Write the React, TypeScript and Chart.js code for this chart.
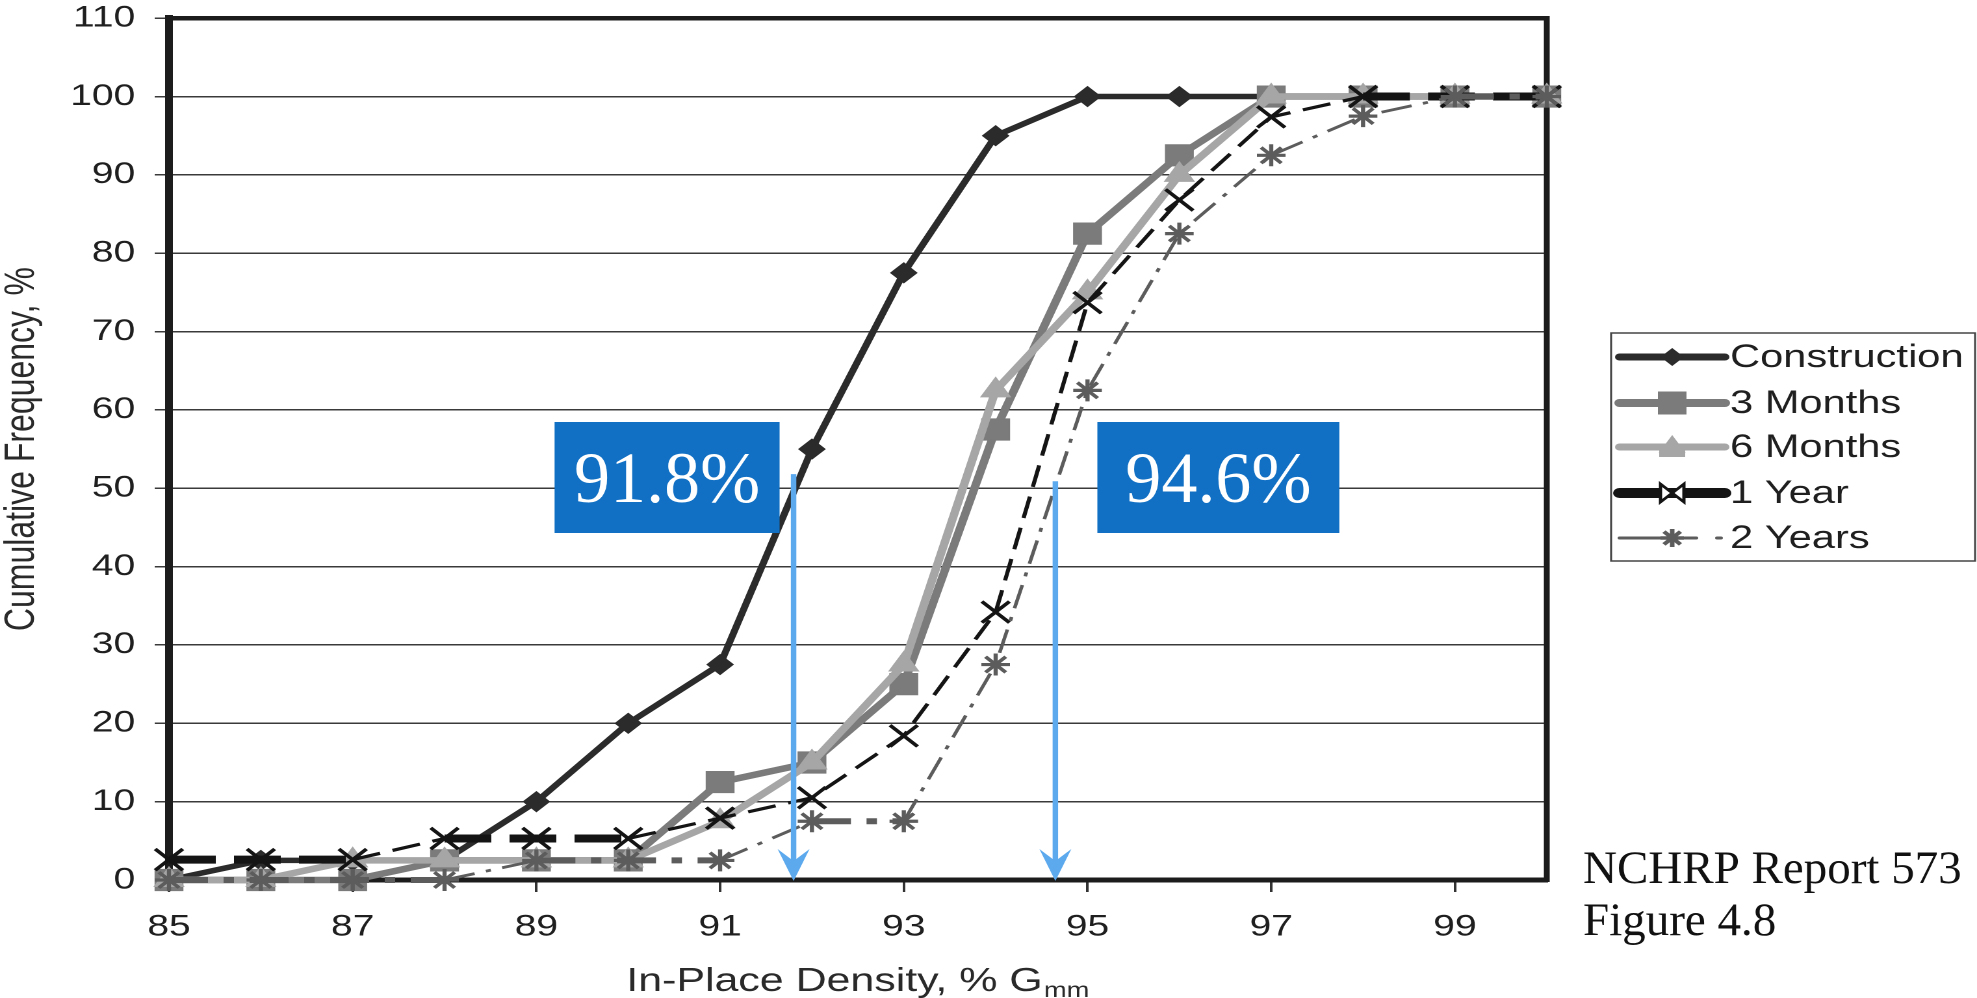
import React, { useEffect, useRef } from 'react';
import { Chart, registerables } from 'chart.js';

Chart.register(...registerables);

// ---------------- data ----------------
const densities = [85, 86, 87, 88, 89, 90, 91, 92, 93, 94, 95, 96, 97, 98, 99, 100];
const construction = [0, 2.5, 2.5, 2.5, 10, 20, 27.5, 55, 77.5, 95, 100, 100, 100, 100, 100, 100];
const threeMonths = [0, 0, 0, 2.5, 2.5, 2.5, 12.5, 15, 25, 57.5, 82.5, 92.5, 100, 100, 100, 100];
const sixMonths = [0, 0, 2.5, 2.5, 2.5, 2.5, 7.5, 15, 27.5, 62.5, 75, 90, 100, 100, 100, 100];
const oneYear = [2.6, 2.6, 2.6, 5.3, 5.3, 5.3, 7.9, 10.5, 18.4, 34.2, 73.7, 86.8, 97.4, 100, 100, 100];
const twoYears = [0, 0, 0, 0, 2.5, 2.5, 2.5, 7.5, 7.5, 27.5, 62.5, 82.5, 92.5, 97.5, 100, 100];

const seriesNames = ['Construction', '3 Months', '6 Months', '1 Year', '2 Years'];
const xTickValues = [85, 87, 89, 91, 93, 95, 97, 99];
const yMin = 0;
const yMax = 110;
const yStep = 10;
const xMin = 85;
const xMax = 100;

const annotationValues = [91.8, 94.65];
const annotationLabels = ['91.8%', '94.6%'];
const sourceLines = ['NCHRP Report 573', 'Figure 4.8'];
const yAxisTitle = 'Cumulative Frequency, %';
const xAxisTitleMain = 'In-Place Density, % G';
const xAxisTitleSub = 'mm';

// ---------------- layout / style ----------------
const PAGE_W = 1977;
const PAGE_H = 998;
const LOGICAL_W = 1521;
const S = PAGE_W / LOGICAL_W; // horizontal stretch of the original figure

const SANS = '"Liberation Sans", Arial, Helvetica, sans-serif';
const SERIF = '"Liberation Serif", "Times New Roman", serif';

const COL = {
  construction: '#2b2b2b',
  three: '#7b7b7b',
  six: '#a6a6a6',
  one: '#141414',
  two: '#5c5c5c',
  axis: '#1c1c1c',
  grid: '#3a3a3a',
  text: '#1f1f1f',
  box: '#1170C4',
  arrow: '#5CA9EE',
};

const ARROW_TOP_VALUES = [51.8, 50.9];
const ANNOT_BOX = [
  { dx: -239, w: 225 },
  { dx: 42, w: 242 },
];
const BOX_TOP = 422;
const BOX_H = 111;

const flat = (c: any) => c.p0.parsed.y === c.p1.parsed.y;
const pts = (arr: number[]) => densities.map((x, i) => ({ x, y: arr[i] }));

function markerPath(ctx: CanvasRenderingContext2D, style: string, x: number, y: number, r: number) {
  ctx.beginPath();
  if (style === 'diamond') {
    ctx.moveTo(x, y - r); ctx.lineTo(x + r, y); ctx.lineTo(x, y + r); ctx.lineTo(x - r, y); ctx.closePath();
  } else if (style === 'triangle') {
    for (let k = 0; k < 3; k++) {
      const ang = -Math.PI / 2 + (k * 2 * Math.PI) / 3;
      const px = x + Math.cos(ang) * r;
      const py = y + Math.sin(ang) * r;
      if (k === 0) ctx.moveTo(px, py); else ctx.lineTo(px, py);
    }
    ctx.closePath();
  }
}

function drawLegend(ctx: CanvasRenderingContext2D) {
  const left = 1239.5;
  const top = 333;
  const w = 280;
  const h = 228;
  ctx.save();
  ctx.fillStyle = '#ffffff';
  ctx.fillRect(left, top, w, h);
  ctx.strokeStyle = '#444';
  ctx.lineWidth = 1.5;
  ctx.strokeRect(left, top, w, h);

  const x0 = 1246;
  const x1 = 1327;
  const mx = 1286.5;
  const tx = 1331;
  const rows = [357, 403, 447, 493, 538];
  ctx.lineCap = 'round';

  // Construction
  let y = rows[0];
  ctx.strokeStyle = COL.construction; ctx.lineWidth = 7;
  ctx.beginPath(); ctx.moveTo(x0, y); ctx.lineTo(x1, y); ctx.stroke();
  ctx.fillStyle = COL.construction; markerPath(ctx, 'diamond', mx, y, 9); ctx.fill();

  // 3 Months
  y = rows[1];
  ctx.strokeStyle = COL.three; ctx.lineWidth = 8;
  ctx.beginPath(); ctx.moveTo(x0, y); ctx.lineTo(x1, y); ctx.stroke();
  ctx.fillStyle = COL.three; ctx.fillRect(mx - 11, y - 11.5, 22, 23);

  // 6 Months
  y = rows[2];
  ctx.strokeStyle = COL.six; ctx.lineWidth = 7;
  ctx.beginPath(); ctx.moveTo(x0, y); ctx.lineTo(x1, y); ctx.stroke();
  ctx.fillStyle = COL.six; markerPath(ctx, 'triangle', mx, y, 12); ctx.fill();
  ctx.fillRect(mx - 10, y - 2, 20, 12);

  // 1 Year
  y = rows[3];
  ctx.strokeStyle = COL.one; ctx.lineWidth = 10;
  ctx.beginPath(); ctx.moveTo(x0, y); ctx.lineTo(x1, y); ctx.stroke();
  ctx.lineCap = 'butt';
  ctx.fillStyle = '#fff';
  ctx.beginPath();
  ctx.moveTo(mx - 9, y - 9); ctx.lineTo(mx + 9, y + 9); ctx.lineTo(mx + 9, y - 9); ctx.lineTo(mx - 9, y + 9); ctx.closePath();
  ctx.fill();
  ctx.strokeStyle = COL.one; ctx.lineWidth = 2.5;
  ctx.stroke();
  ctx.lineCap = 'round';

  // 2 Years
  y = rows[4];
  ctx.strokeStyle = COL.two; ctx.lineWidth = 3;
  const segs = [[1246, 1278.5], [1296, 1305], [1321, 1324]];
  segs.forEach(([a, b]) => { ctx.beginPath(); ctx.moveTo(a, y); ctx.lineTo(b, y); ctx.stroke(); });
  ctx.lineWidth = 3.5; ctx.lineCap = 'butt';
  const r = 9;
  const d = r * Math.SQRT1_2;
  ctx.beginPath();
  ctx.moveTo(mx, y - r); ctx.lineTo(mx, y + r);
  ctx.moveTo(mx - d, y - d); ctx.lineTo(mx + d, y + d);
  ctx.moveTo(mx - d, y + d); ctx.lineTo(mx + d, y - d);
  ctx.moveTo(mx - r, y); ctx.lineTo(mx + r, y);
  ctx.stroke();

  // texts
  ctx.fillStyle = '#1f1f1f';
  ctx.font = `32px ${SANS}`;
  ctx.textAlign = 'left';
  ctx.textBaseline = 'middle';
  seriesNames.forEach((name, i) => ctx.fillText(name, tx, rows[i] + 1));
  ctx.restore();
}

const overlayPlugin = {
  id: 'overlay',
  beforeDatasetsDraw(chart: any) {
    const { ctx, chartArea: a } = chart;
    ctx.save();
    ctx.strokeStyle = COL.axis;
    ctx.lineWidth = 4.5;
    ctx.lineJoin = 'miter';
    ctx.beginPath();
    ctx.moveTo(a.left - 3, a.top);
    ctx.lineTo(a.right, a.top);
    ctx.lineTo(a.right, a.bottom + 2);
    ctx.stroke();
    ctx.restore();
  },
  afterDraw(chart: any) {
    const { ctx, chartArea: a, scales } = chart;
    const xs = scales.x;
    const ys = scales.y;

    // x-axis title with subscript
    ctx.save();
    ctx.fillStyle = '#2a2a2a';
    ctx.textBaseline = 'alphabetic';
    ctx.textAlign = 'left';
    ctx.font = `33px ${SANS}`;
    const w1 = ctx.measureText(xAxisTitleMain).width;
    ctx.font = `21px ${SANS}`;
    const w2 = ctx.measureText(xAxisTitleSub).width;
    const cx = (a.left + a.right) / 2;
    const start = cx - (w1 + w2 + 1) / 2;
    ctx.font = `33px ${SANS}`;
    ctx.fillText(xAxisTitleMain, start, 991);
    ctx.font = `21px ${SANS}`;
    ctx.fillText(xAxisTitleSub, start + w1 + 1, 997);
    ctx.restore();

    drawLegend(ctx);

    // un-stretched overlays (annotations & source)
    ctx.save();
    ctx.scale(1 / S, 1);
    annotationValues.forEach((v, i) => {
      const px = xs.getPixelForValue(v) * S;
      const yTop = ys.getPixelForValue(ARROW_TOP_VALUES[i]);
      const yTip = ys.getPixelForValue(0) + 1;
      ctx.strokeStyle = COL.arrow;
      ctx.lineWidth = 5.5;
      ctx.beginPath();
      ctx.moveTo(px, yTop);
      ctx.lineTo(px, yTip - 20);
      ctx.stroke();
      ctx.fillStyle = COL.arrow;
      ctx.beginPath();
      ctx.moveTo(px, yTip);
      ctx.lineTo(px - 16, yTip - 32);
      ctx.lineTo(px, yTip - 20);
      ctx.lineTo(px + 16, yTip - 32);
      ctx.closePath();
      ctx.fill();

      const b = ANNOT_BOX[i];
      const bl = px + b.dx;
      ctx.fillStyle = COL.box;
      ctx.fillRect(bl, BOX_TOP, b.w, BOX_H);
      ctx.fillStyle = '#ffffff';
      ctx.font = `72px ${SERIF}`;
      ctx.textAlign = 'center';
      ctx.textBaseline = 'alphabetic';
      ctx.fillText(annotationLabels[i], bl + b.w / 2, BOX_TOP + 80);
    });

    ctx.fillStyle = '#111';
    ctx.font = `47px ${SERIF}`;
    ctx.textAlign = 'left';
    ctx.textBaseline = 'alphabetic';
    ctx.fillText(sourceLines[0], 1583, 883);
    ctx.fillText(sourceLines[1], 1583, 935);
    ctx.restore();
  },
};

function buildConfig(): any {
  return {
    type: 'line',
    data: {
      datasets: [
        {
          label: seriesNames[0],
          data: pts(construction),
          borderColor: COL.construction,
          backgroundColor: COL.construction,
          pointBackgroundColor: COL.construction,
          pointBorderColor: COL.construction,
          borderWidth: 5.5,
          pointStyle: 'rectRot',
          pointRadius: 10,
          pointBorderWidth: 1,
          order: 5,
        },
        {
          label: seriesNames[1],
          data: pts(threeMonths),
          borderColor: COL.three,
          backgroundColor: COL.three,
          pointBackgroundColor: COL.three,
          pointBorderColor: COL.three,
          borderWidth: 6.5,
          pointStyle: 'rect',
          pointRadius: 15,
          pointBorderWidth: 1,
          order: 4,
        },
        {
          label: seriesNames[2],
          data: pts(sixMonths),
          borderColor: COL.six,
          backgroundColor: COL.six,
          pointBackgroundColor: COL.six,
          pointBorderColor: COL.six,
          borderWidth: 6.5,
          pointStyle: 'triangle',
          pointRadius: 13,
          pointBorderWidth: 1,
          order: 3,
        },
        {
          label: seriesNames[3],
          data: pts(oneYear),
          borderColor: COL.one,
          backgroundColor: COL.one,
          pointBackgroundColor: COL.one,
          pointBorderColor: COL.one,
          borderWidth: 3,
          borderDash: [22, 10],
          pointStyle: 'crossRot',
          pointRadius: 15,
          pointBorderWidth: 3.2,
          segment: {
            borderWidth: (c: any) => (flat(c) ? 8 : 3.2),
            borderDash: (c: any) => (flat(c) ? [36, 14] : [22, 10]),
          },
          order: 2,
        },
        {
          label: seriesNames[4],
          data: pts(twoYears),
          borderColor: COL.two,
          backgroundColor: COL.two,
          pointBackgroundColor: COL.two,
          pointBorderColor: COL.two,
          borderWidth: 2.8,
          borderDash: [24, 9, 4, 9],
          pointStyle: 'star',
          pointRadius: 11,
          pointBorderWidth: 3.2,
          segment: {
            borderWidth: (c: any) => (flat(c) ? 6 : 2.8),
            borderDash: (c: any) => (flat(c) ? [30, 12, 8, 12] : [24, 9, 4, 9]),
          },
          order: 1,
        },
      ].map((d) => ({ ...d, fill: false, tension: 0, clip: false })),
    },
    options: {
      responsive: false,
      animation: false,
      devicePixelRatio: 2,
      events: [],
      layout: { padding: { left: 0, right: 331, top: 14, bottom: 0 } },
      plugins: {
        legend: { display: false },
        tooltip: { enabled: false },
        title: { display: false },
      },
      scales: {
        x: {
          type: 'linear',
          min: xMin,
          max: xMax,
          afterBuildTicks: (s: any) => {
            s.ticks = xTickValues.map((v) => ({ value: v }));
          },
          afterFit: (s: any) => {
            s.height = 118;
            s.paddingLeft = 0;
            s.paddingRight = 0;
          },
          ticks: {
            autoSkip: false,
            maxRotation: 0,
            padding: 17,
            color: COL.text,
            font: { family: SANS, size: 30 },
            callback: (v: any) => String(v),
          },
          grid: {
            drawOnChartArea: false,
            drawTicks: true,
            tickLength: 12,
            color: '#333',
            lineWidth: 2,
          },
          border: { display: true, width: 5, color: COL.axis },
          title: { display: false },
        },
        y: {
          type: 'linear',
          min: yMin,
          max: yMax,
          afterFit: (s: any) => {
            s.width = 130;
            s.paddingTop = 0;
            s.paddingBottom = 0;
          },
          ticks: {
            stepSize: yStep,
            padding: 15,
            color: COL.text,
            font: { family: SANS, size: 30 },
          },
          grid: {
            drawOnChartArea: true,
            drawTicks: true,
            tickLength: 11,
            color: COL.grid,
            lineWidth: 1.5,
          },
          border: { display: true, width: 6, color: COL.axis },
          title: {
            display: true,
            text: yAxisTitle,
            color: '#2a2a2a',
            font: { family: SANS, size: 32, lineHeight: 1 },
            padding: { top: 1, bottom: 0 },
          },
        },
      },
    },
    plugins: [overlayPlugin],
  };
}

export default function App() {
  const ref = useRef<HTMLCanvasElement>(null);
  useEffect(() => {
    const canvas = ref.current;
    if (!canvas) return;
    const chart = new Chart(canvas, buildConfig());
    return () => chart.destroy();
  }, []);
  return (
    <div
      style={{
        position: 'absolute',
        left: 0,
        top: 0,
        width: PAGE_W,
        height: PAGE_H,
        background: '#ffffff',
        overflow: 'hidden',
      }}
    >
      <canvas
        ref={ref}
        width={LOGICAL_W}
        height={PAGE_H}
        style={{ width: `${PAGE_W}px`, height: `${PAGE_H}px`, display: 'block' }}
      />
    </div>
  );
}
